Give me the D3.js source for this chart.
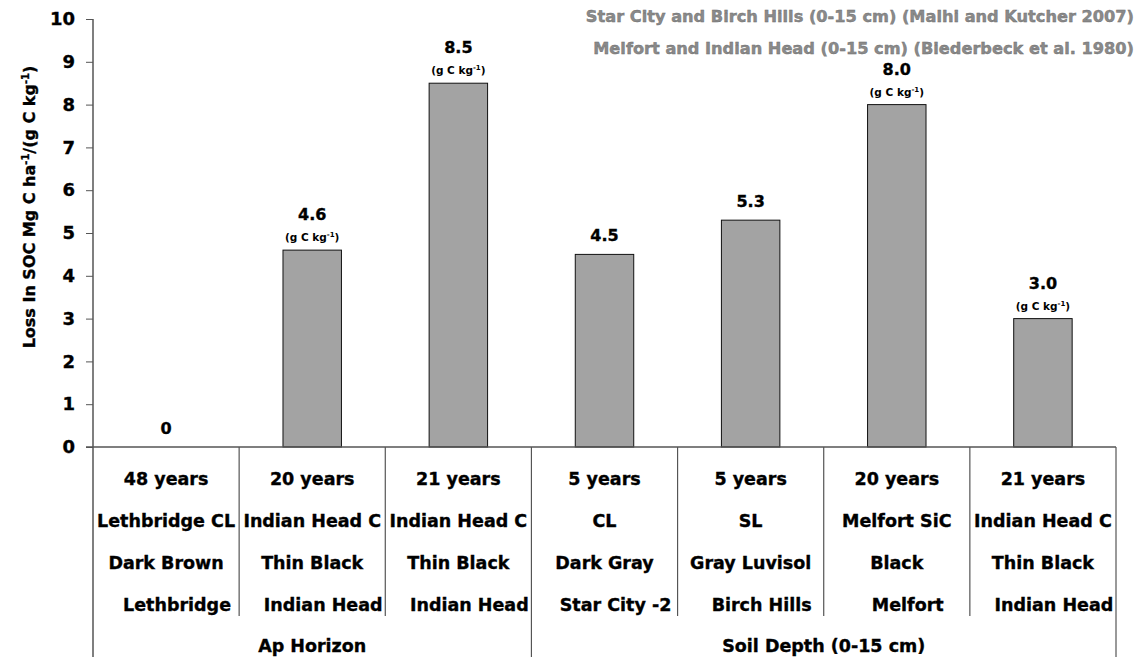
<!DOCTYPE html>
<html>
<head>
<meta charset="utf-8">
<script src="https://cdn.jsdelivr.net/npm/d3@7"></script>
<style>
body { margin: 0; background: #fff; }
text { font-family: "DejaVu Sans", sans-serif; font-weight: bold; }
.heavy { stroke: #000; stroke-width: 0.35; }
</style>
</head>
<body>
<div id="main"></div>
<script>
// values
const years  = ["48 years", "20 years", "21 years", "5 years", "5 years", "20 years", "21 years"];
const sites  = ["Lethbridge CL", "Indian Head C", "Indian Head C", "CL", "SL", "Melfort SiC", "Indian Head C"];
const soils  = ["Dark Brown", "Thin Black", "Thin Black", "Dark Gray", "Gray Luvisol", "Black", "Thin Black"];
const places = ["Lethbridge", "Indian Head", "Indian Head", "Star City -2", "Birch Hills", "Melfort", "Indian Head"];
const losses = [0, 4.6, 8.5, 4.5, 5.3, 8.0, 3.0];
const lossLabels = ["0", "4.6", "8.5", "4.5", "5.3", "8.0", "3.0"];
const perKg = [false, true, true, false, false, true, true];   // bar also shows "(g C kg-1)"
const groupNames = ["Ap Horizon", "Soil Depth (0-15 cm)"];
const groupSizes = [3, 4];
const yTicks = [0, 1, 2, 3, 4, 5, 6, 7, 8, 9, 10];
const legendLines = [
  "Star City and Birch Hills (0-15 cm) (Malhi and Kutcher 2007)",
  "Melfort and Indian Head (0-15 cm) (Biederbeck et al. 1980)"
];

const width = 1139, height = 662;
const plotL = 93, plotR = 1116, plotT = 19, base = 447, plotB = 657;

const svg = d3.select("#main").append("svg").attr("width", width).attr("height", height);

const x = d3.scaleBand().domain(d3.range(losses.length)).range([plotL, plotR]);
const y = d3.scaleLinear().domain([0, 10]).range([base, plotT]);
const barW = x.bandwidth() * 0.4;

// legend text top right
svg.selectAll(".legend").data(legendLines).enter().append("text")
  .attr("class", "legend")
  .attr("x", 1134).attr("y", (d, i) => 22 + i * 32)
  .attr("text-anchor", "end")
  .attr("font-size", 16.2)
  .attr("fill", "#8a8a8a")
  .attr("stroke", "#6a6a6a").attr("stroke-width", 0.4)
  .text(d => d);

// bars
svg.selectAll(".bar").data(losses).enter().append("rect")
  .attr("class", "bar")
  .attr("x", (d, i) => x(i) + (x.bandwidth() - barW) / 2)
  .attr("y", d => y(d))
  .attr("width", barW)
  .attr("height", d => base - y(d))
  .attr("fill", "#a3a3a3")
  .attr("stroke", d => d > 0 ? "#111" : "none")
  .attr("stroke-width", 1);

// value labels
svg.selectAll(".val").data(losses).enter().append("text")
  .attr("class", "val heavy")
  .attr("x", (d, i) => x(i) + x.bandwidth() / 2)
  .attr("y", (d, i) => y(d) - (perKg[i] ? 30 : 13))
  .attr("text-anchor", "middle")
  .attr("font-size", 16)
  .text((d, i) => lossLabels[i]);

const unit = svg.selectAll(".unit").data(losses.map((d, i) => ({v: d, i: i})).filter(d => perKg[d.i]))
  .enter().append("text")
  .attr("class", "unit")
  .attr("x", d => x(d.i) + x.bandwidth() / 2)
  .attr("y", d => y(d.v) - 9)
  .attr("text-anchor", "middle")
  .attr("font-size", 10.5);
unit.append("tspan").text("(g C kg");
unit.append("tspan").attr("font-size", 7).attr("dy", -4).text("-1");
unit.append("tspan").attr("dy", 4).text(")");

// y axis
const yAxis = svg.append("g").attr("transform", `translate(${plotL},0)`)
  .call(d3.axisLeft(y).tickValues(yTicks).tickSize(7).tickPadding(11).tickFormat(d3.format("d")));
yAxis.select(".domain").remove();
yAxis.selectAll(".tick line").attr("stroke", "#555");
yAxis.selectAll(".tick text").attr("font-size", 18).attr("fill", "#000")
  .attr("font-family", "DejaVu Sans").attr("font-weight", "bold")
  .attr("stroke", "#000").attr("stroke-width", 0.35);

svg.append("line").attr("x1", plotL).attr("x2", plotL).attr("y1", plotT).attr("y2", plotB)
  .attr("stroke", "#555").attr("stroke-width", 1.5);
svg.append("line").attr("x1", plotL - 7).attr("x2", plotR).attr("y1", base).attr("y2", base)
  .attr("stroke", "#555").attr("stroke-width", 1.5);

// y title
const yTitle = svg.append("text")
  .attr("class", "heavy")
  .attr("transform", "translate(35,207) rotate(-90)")
  .attr("text-anchor", "middle")
  .attr("font-size", 16);
yTitle.append("tspan").text("Loss In SOC Mg C ha");
yTitle.append("tspan").attr("font-size", 10).attr("dy", -6).text("-1");
yTitle.append("tspan").attr("dy", 6).text("/(g C kg");
yTitle.append("tspan").attr("font-size", 10).attr("dy", -6).text("-1");
yTitle.append("tspan").attr("dy", 6).text(")");

// category separators
const groupEdges = [0];
groupSizes.forEach(n => groupEdges.push(groupEdges[groupEdges.length - 1] + n));
d3.range(1, losses.length + 1).forEach(i => {
  const xx = i < losses.length ? x(i) : plotR;
  const outer = groupEdges.includes(i);
  svg.append("line").attr("x1", xx).attr("x2", xx).attr("y1", base).attr("y2", outer ? plotB : 616)
    .attr("stroke", "#555").attr("stroke-width", 1.2);
});

// category label rows
const rows = [years, sites, soils, places];
rows.forEach((row, r) => {
  svg.selectAll(".row" + r).data(row).enter().append("text")
    .attr("class", "heavy")
    .attr("x", (d, i) => x(i) + x.bandwidth() / 2 + (r === 3 ? 11 : 0))
    .attr("y", 485 + r * 42)
    .attr("text-anchor", "middle")
    .attr("font-size", 17.5)
    .text(d => d);
});

// group labels
groupNames.forEach((g, k) => {
  const x0 = x(groupEdges[k]);
  const x1 = groupEdges[k + 1] < losses.length ? x(groupEdges[k + 1]) : plotR;
  svg.append("text").attr("class", "heavy").attr("x", (x0 + x1) / 2).attr("y", 652)
    .attr("text-anchor", "middle").attr("font-size", 17.5).text(g);
});
</script>
</body>
</html>
